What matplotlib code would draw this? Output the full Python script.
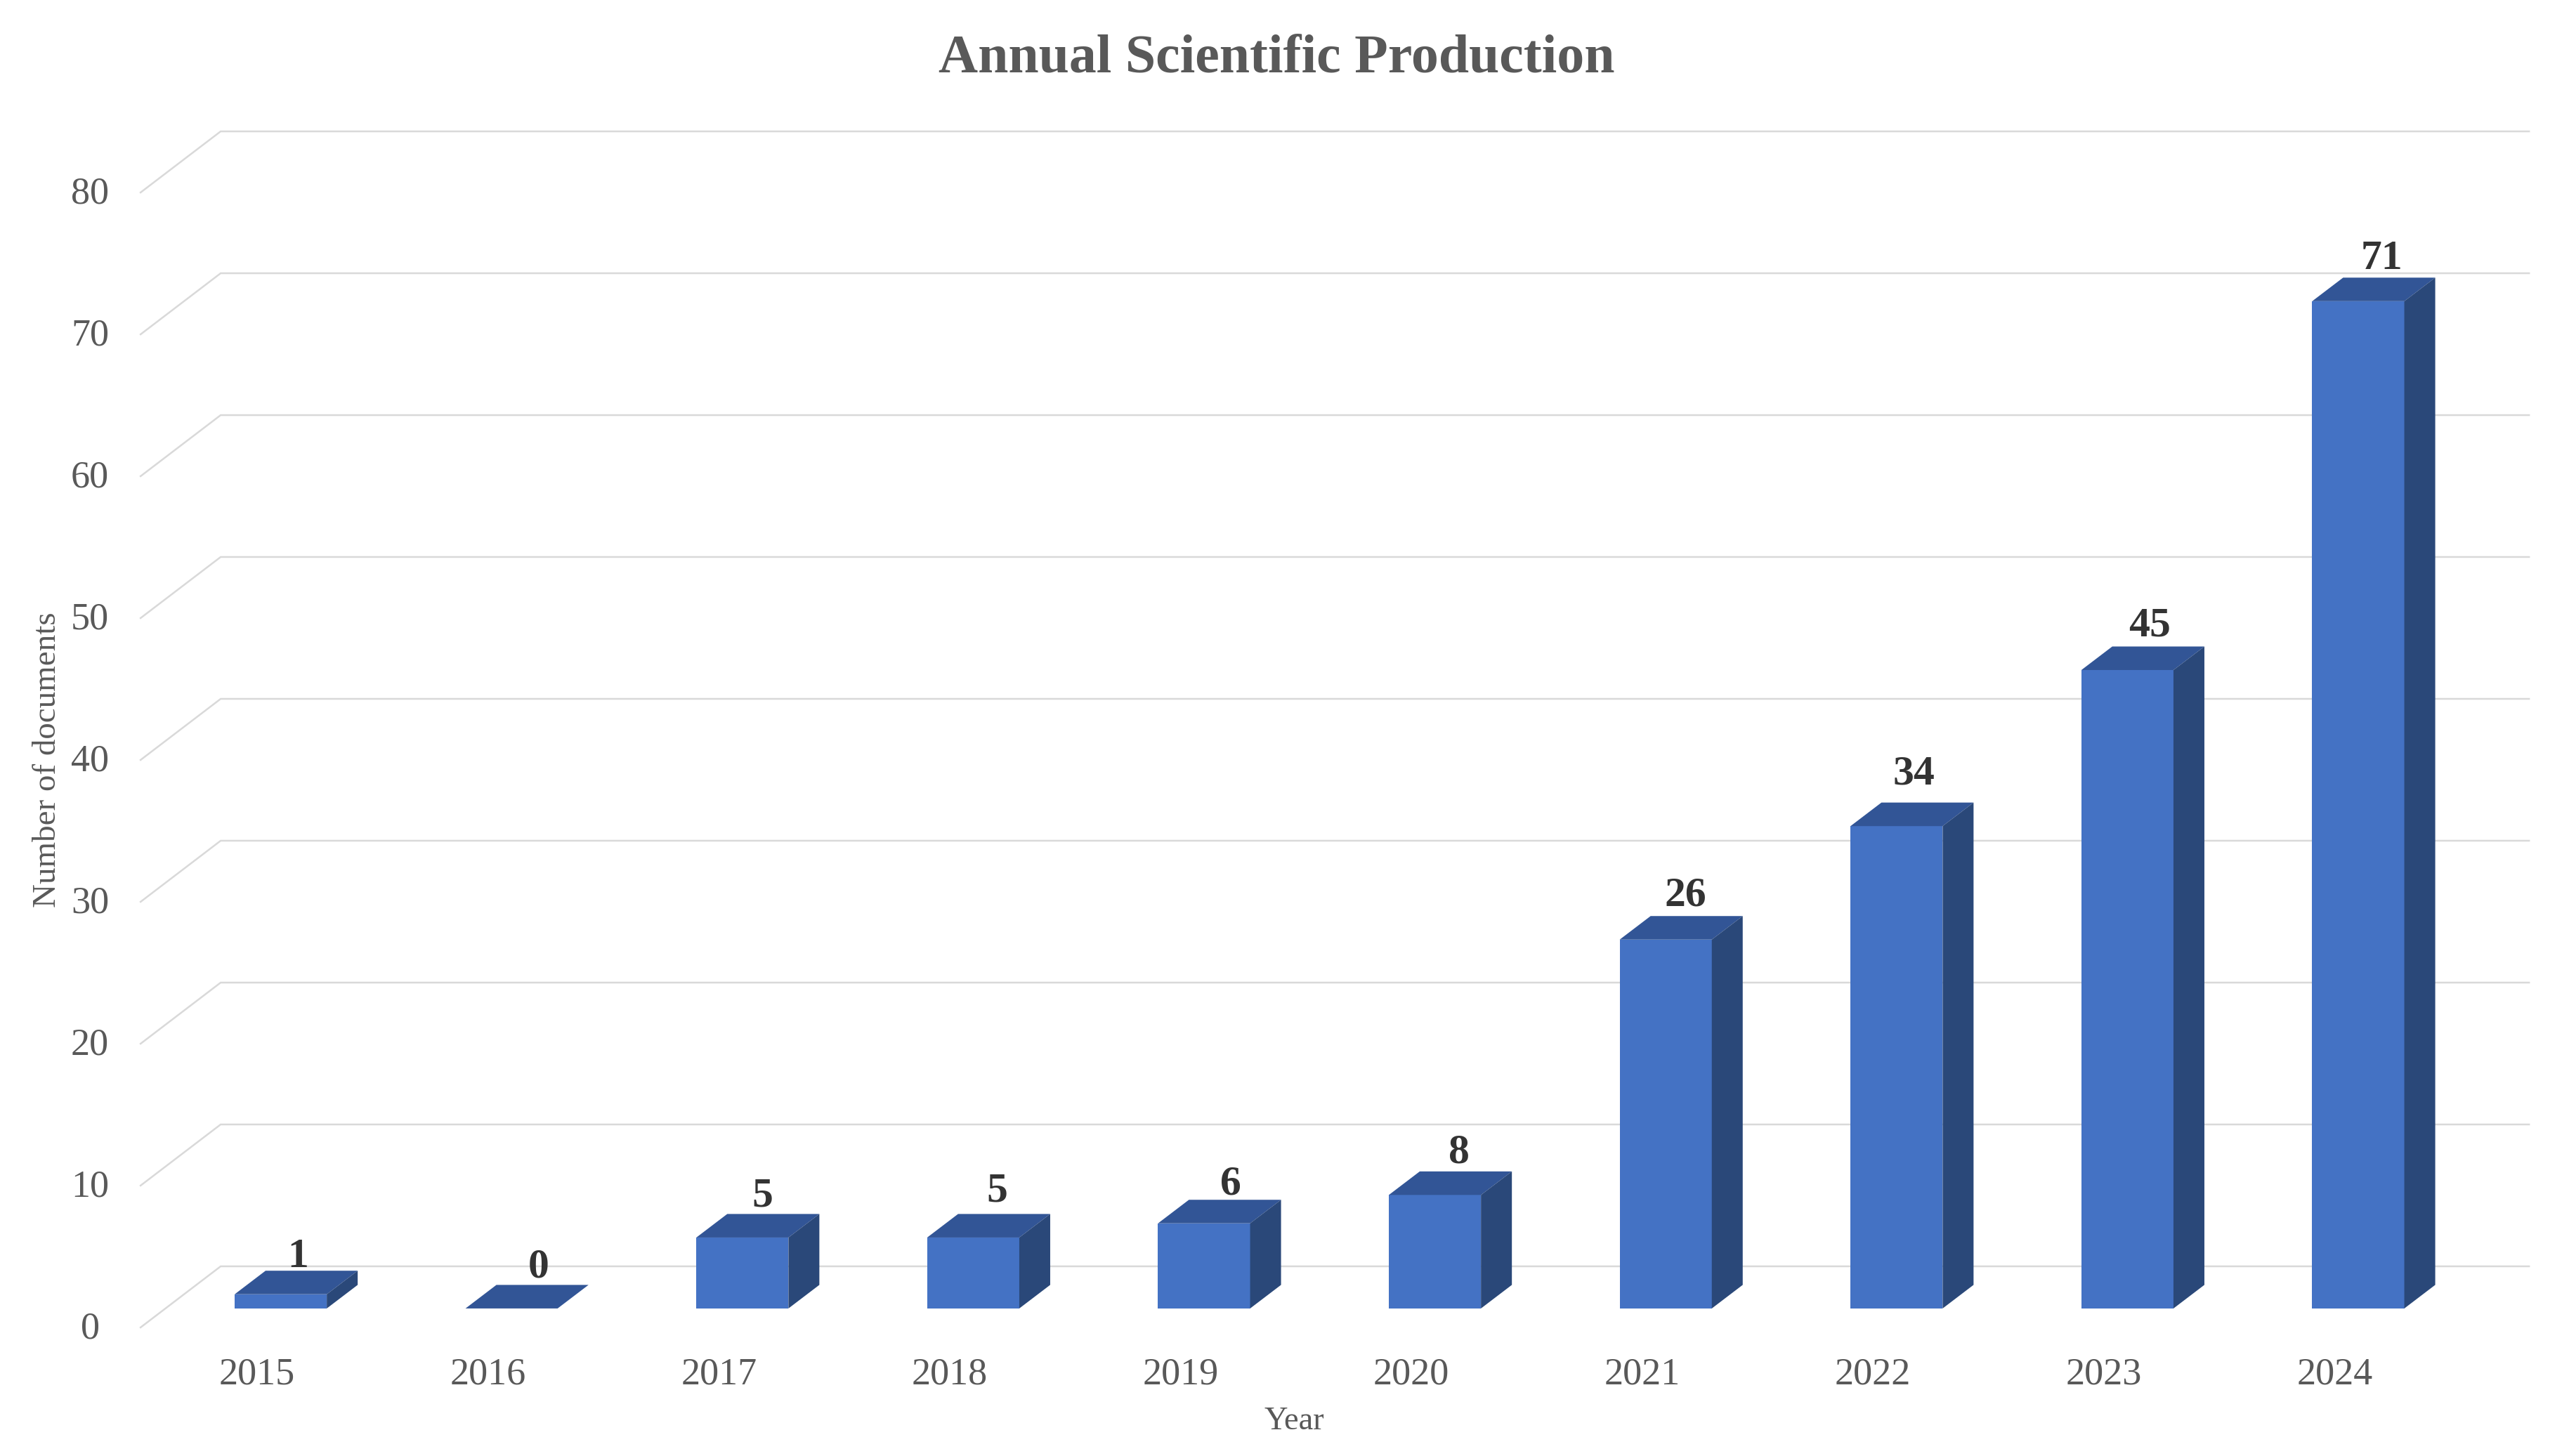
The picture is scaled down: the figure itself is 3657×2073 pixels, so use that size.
import matplotlib
matplotlib.use("Agg")
import matplotlib.pyplot as plt

years = [2015, 2016, 2017, 2018, 2019, 2020, 2021, 2022, 2023, 2024]
docs = [1, 0, 5, 5, 6, 8, 26, 34, 45, 71]
y_ticks = [0, 10, 20, 30, 40, 50, 60, 70, 80]

plt.rcParams['font.family'] = ['Liberation Serif', 'DejaVu Serif']

front_col = '#4472C4'
top_col = '#325596'
side_col = '#2A4879'
grid_col = '#D9D9D9'
text_col = '#595959'

# depth of the fake 3d look, in data units
bar_w = 0.399
bar_dx = 0.134
bar_dy = 1.66
wall_x0 = -0.607
wall_x1 = -0.26
wall_end = 9.74
floor_off = -1.337
wall_off = 2.97

# the value labels were placed by hand in the original, nudges in points
nudge_x = [-5, 5, -2, 2, 5, 2, -2, -5, 0, 2]
nudge_y = [-2, 2, 2, 7, 0, 3, 5, 13, 5, 3]

fig = plt.figure(figsize=(36.57, 20.73), dpi=100)
ax = fig.add_axes([0, 0, 1, 1])
ax.set_xlim(-1.216, 9.913)
ax.set_ylim(-10.4, 92.23)
ax.axis('off')

# gridlines on the back wall + the little diagonal on the left
for g in y_ticks:
    ax.plot([wall_x0, wall_x1, wall_end], [g + floor_off, g + wall_off, g + wall_off],
            color=grid_col, lw=1.8, solid_joinstyle='miter', zorder=1)
    ax.text(-0.826, g + floor_off - 0.1, str(g), fontsize=39, color=text_col,
            ha='center', va='center')

pos = list(range(len(years)))
ax.bar(pos, docs, width=bar_w, color=front_col, zorder=3)

for i, v in zip(pos, docs):
    l = i - bar_w / 2
    r = i + bar_w / 2
    # top face
    ax.fill([l, r, r + bar_dx, l + bar_dx], [v, v, v + bar_dy, v + bar_dy],
            color=top_col, lw=0, zorder=3)
    # right side
    if v > 0:
        ax.fill([r, r + bar_dx, r + bar_dx, r], [0, bar_dy, v + bar_dy, v],
                color=side_col, lw=0, zorder=3)
    ax.annotate(str(v), (i + 0.095, v + bar_dy + 0.4),
                xytext=(nudge_x[i], nudge_y[i]), textcoords='offset points',
                fontsize=43, fontweight='bold', color='#333333',
                ha='center', va='baseline', zorder=4)
    ax.text(i - 0.102, -4.69, str(years[i]), fontsize=39, color=text_col,
            ha='center', va='center')

ax.text(4.39, -7.98, 'Year', fontsize=33.5, color=text_col, ha='center', va='center')
ax.text(-1.01, 38.7, 'Number of documents', fontsize=33.8, color=text_col,
        rotation=90, ha='center', va='center')
ax.text(4.314, 88.05, 'Annual Scientific Production', fontsize=56, fontweight='bold',
        color=text_col, ha='center', va='center')

fig.savefig('out.png', dpi=100)
